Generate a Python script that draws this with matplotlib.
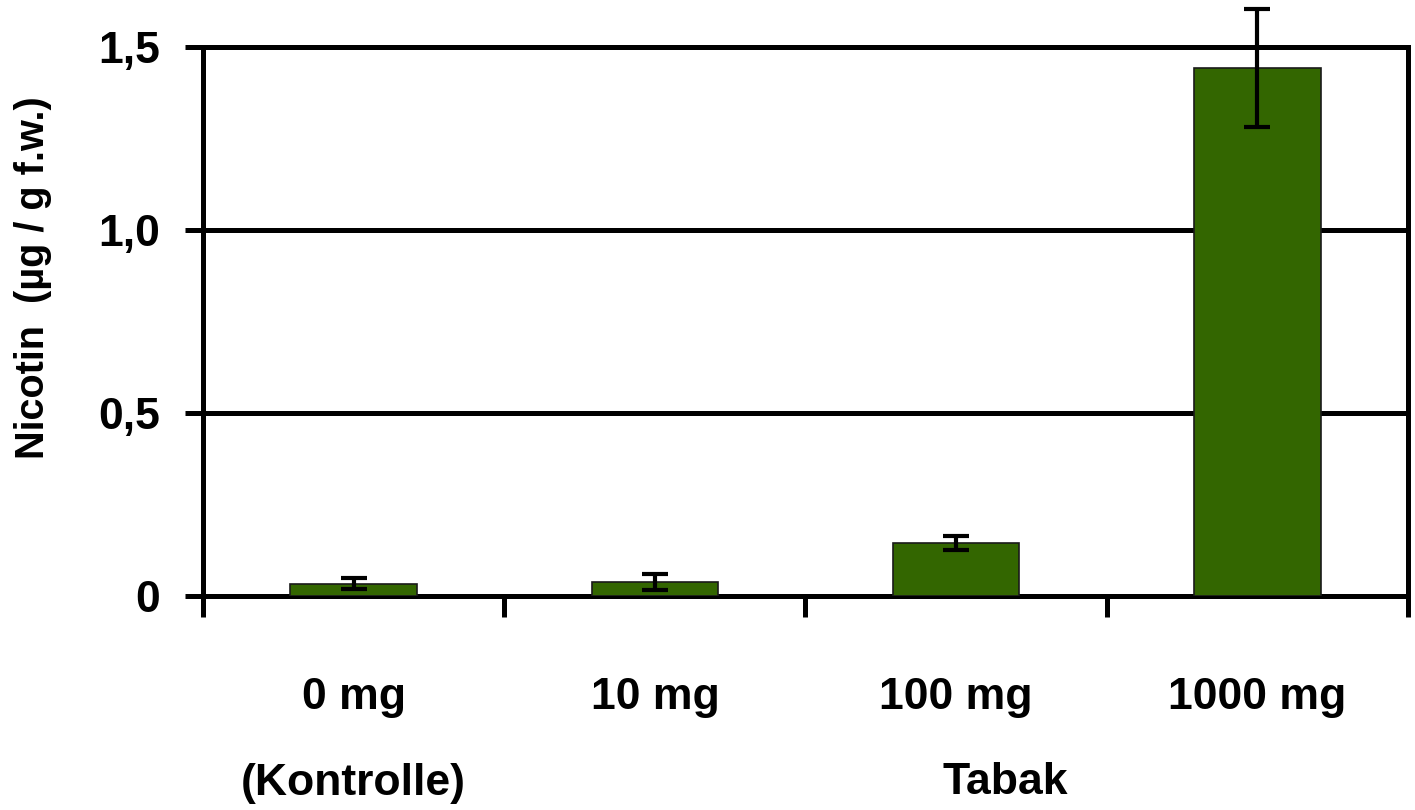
import matplotlib.pyplot as plt
import numpy as np

plt.rcParams['font.family'] = ['Liberation Sans', 'DejaVu Sans']
plt.rcParams['font.weight'] = 'bold'

doses = ['0 mg', '10 mg', '100 mg', '1000 mg']
nicotin = [0.033, 0.038, 0.145, 1.443]
nicotin_err = [0.015, 0.022, 0.019, 0.161]
y_ticks = [0, 0.5, 1.0, 1.5]
y_ticklabels = ['0', '0,5', '1,0', '1,5']

fig = plt.figure(figsize=(14.15, 8.1), dpi=100)
ax = fig.add_axes([0.1435, 0.2642, 0.8515, 0.6778])

x = np.arange(len(doses)) + 0.5
ax.bar(x, nicotin, width=0.42, color='#336600', edgecolor='#1a1a1a',
       linewidth=1.2, zorder=3)
ax.errorbar(x, nicotin, yerr=nicotin_err, fmt='none', ecolor='black',
            elinewidth=3, capsize=9.5, capthick=3, zorder=4, clip_on=False)

ax.set_xlim(0, 4)
ax.set_ylim(0, 1.5)

# grid
ax.set_axisbelow(True)
ax.yaxis.grid(True, color='black', linewidth=3.6)

for side in ['left', 'right', 'top', 'bottom']:
    ax.spines[side].set_linewidth(3.6)

ax.set_yticks(y_ticks)
ax.set_yticklabels(y_ticklabels)
ax.tick_params(axis='y', length=13, width=3.6, pad=18, labelsize=32)

# category separators as minor ticks, labels under the bars
ax.set_xticks(np.arange(len(doses) + 1), minor=True)
ax.set_xticks(x)
ax.set_xticklabels(doses)
ax.tick_params(axis='x', which='minor', length=15, width=3.6)
ax.tick_params(axis='x', which='major', length=0, pad=58, labelsize=32)

ax.text(0.5, -0.342, '(Kontrolle)', transform=ax.get_xaxis_transform(),
        ha='center', va='center', fontsize=32, fontweight='bold')
ax.text(0.6655, -0.340, 'Tabak', transform=ax.transAxes,
        ha='center', va='center', fontsize=32, fontweight='bold')

ax.set_ylabel('Nicotin  (µg / g f.w.)', fontsize=28.5, fontweight='bold',
              va='center')
ax.yaxis.set_label_coords(-0.141, 0.579)

fig.savefig('out.png', dpi=100)
